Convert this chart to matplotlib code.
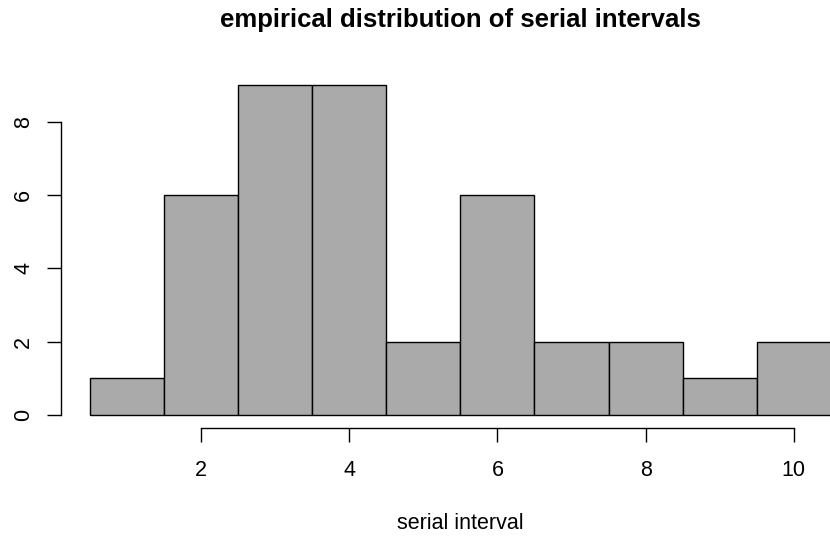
import matplotlib
matplotlib.use("Agg")
import matplotlib.pyplot as plt
import numpy as np

plt.rcParams['font.family'] = ['Liberation Sans', 'DejaVu Sans']

# histogram of serial intervals (bins of width 1)
bin_edges = [0.5, 1.5, 2.5, 3.5, 4.5, 5.5, 6.5, 7.5, 8.5, 9.5, 10.5]
counts = [1, 6, 9, 9, 2, 6, 2, 2, 1, 2]
xticks = [2, 4, 6, 8, 10]
yticks = [0, 2, 4, 6, 8]

fig = plt.figure(figsize=(8.3, 5.36), dpi=100)
ax = fig.add_axes([0, 0, 1, 1])

edges = np.array(bin_edges)
ax.bar(edges[:-1], counts, width=np.diff(edges), align='edge',
       color='#AAAAAA', edgecolor='black', linewidth=1.0)

ax.set_xlim(-0.715, 10.489)
ax.set_ylim(-3.304, 11.33)

# R-style detached axes
for s in ['top', 'right']:
    ax.spines[s].set_visible(False)
ax.spines['left'].set_position(('data', 0.1085))
ax.spines['bottom'].set_position(('data', -0.355))
ax.spines['left'].set_bounds(0, 8)
ax.spines['bottom'].set_bounds(2, 10)
ax.spines['left'].set_linewidth(1.0)
ax.spines['bottom'].set_linewidth(1.0)

ax.set_xticks(xticks)
ax.set_yticks(yticks)
ax.tick_params(direction='out', length=9.8, width=1.0, labelsize=15.5)
ax.tick_params(axis='x', pad=13.5)
ax.tick_params(axis='y', pad=9.6, labelrotation=90)
for lab in ax.get_yticklabels():
    lab.set_va('center')

fig.text(0.5545, 0.95, "empirical distribution of serial intervals",
         ha='center', va='baseline', fontsize=18.5, fontweight='bold')
fig.text(0.5545, 0.0131, "serial interval", ha='center', va='baseline',
         fontsize=15.5)

fig.savefig("out.png", dpi=100)
